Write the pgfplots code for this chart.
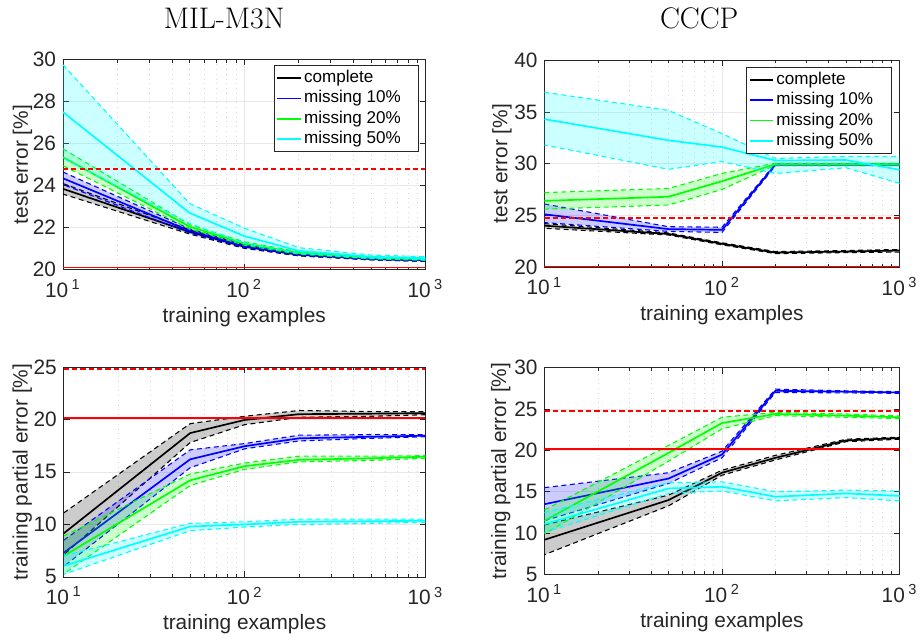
\documentclass[border=0pt]{standalone}
\usepackage{fontspec}
\usepackage{graphicx}
\usepackage{pgfplots}
\usepackage{pgfplotstable}
\pgfplotsset{compat=1.18}

\newfontfamily\arial{Liberation Sans}
\newcommand{\tickfont}{\arial\fontsize{10.5}{12}\selectfont}
\newcommand{\legfont}{\arial\fontsize{8.6}{10}\selectfont}
\newcommand{\titlefont}{\fontsize{15}{18}\selectfont}

\definecolor{axgray}{gray}{0.15}
\definecolor{mblue}{rgb}{0,0,1}
\definecolor{mgreen}{rgb}{0,1,0}
\definecolor{mcyan}{rgb}{0,1,1}

% each table: rows 0-5 = upper edge (b) and mean (m), x ascending;
% rows 6-11 = lower edge (b), x descending
% MIL-M3N, test error
\pgfplotstableread{
x b m
10 24.1 23.85
50 21.9 21.8
100 21.18 21.1
200 20.78 20.72
500 20.57 20.52
1000 20.5 20.45
1000 20.4 nan
500 20.47 nan
200 20.66 nan
100 21.02 nan
50 21.7 nan
10 23.6 nan
}\tAk
\pgfplotstableread{
x b m
10 24.65 24.35
50 21.95 21.85
100 21.2 21.12
200 20.8 20.73
500 20.57 20.52
1000 20.5 20.45
1000 20.4 nan
500 20.47 nan
200 20.67 nan
100 21.05 nan
50 21.75 nan
10 24.05 nan
}\tAb
\pgfplotstableread{
x b m
10 25.75 25.35
50 22.15 22.05
100 21.33 21.25
200 20.86 20.8
500 20.62 20.57
1000 20.55 20.5
1000 20.45 nan
500 20.52 nan
200 20.74 nan
100 21.17 nan
50 21.95 nan
10 24.95 nan
}\tAg
\pgfplotstableread{
x b m
10 29.75 27.5
50 23.15 22.7
100 21.98 21.6
200 21.05 20.9
500 20.7 20.62
1000 20.62 20.55
1000 20.48 nan
500 20.55 nan
200 20.78 nan
100 21.25 nan
50 22.2 nan
10 25.3 nan
}\tAc

% CCCP, test error
\pgfplotstableread{
x b m
10 24.2 24.0
50 23.3 23.2
100 22.35 22.25
200 21.5 21.4
500 21.6 21.5
1000 21.7 21.6
1000 21.45 nan
500 21.4 nan
200 21.3 nan
100 22.15 nan
50 23.1 nan
10 23.75 nan
}\tBk
\pgfplotstableread{
x b m
10 26.1 25.1
50 23.9 23.67
100 23.85 23.6
200 30.0 29.9
500 30.0 29.9
1000 30.0 29.9
1000 29.8 nan
500 29.8 nan
200 29.8 nan
100 23.35 nan
50 23.45 nan
10 24.3 nan
}\tBb
\pgfplotstableread{
x b m
10 27.2 26.4
50 27.6 26.8
100 29.05 28.3
200 30.05 29.95
500 30.05 29.95
1000 30.05 29.95
1000 29.85 nan
500 29.85 nan
200 29.85 nan
100 27.5 nan
50 26.0 nan
10 25.6 nan
}\tBg
\pgfplotstableread{
x b m
10 36.9 34.3
50 35.15 32.25
100 32.9 31.6
200 30.5 30.3
500 30.7 30.35
1000 30.7 29.4
1000 28.1 nan
500 29.6 nan
200 29.05 nan
100 30.2 nan
50 29.45 nan
10 31.8 nan
}\tBc

% MIL-M3N, training partial error
\pgfplotstableread{
x b m
10 11.1 9.15
50 19.6 18.7
100 20.3 19.95
200 20.85 20.5
500 20.75 20.55
1000 20.75 20.6
1000 20.45 nan
500 20.3 nan
200 20.2 nan
100 19.5 nan
50 17.8 nan
10 7.1 nan
}\tCk
\pgfplotstableread{
x b m
10 8.5 7.3
50 17.1 16.2
100 17.7 17.45
200 18.5 18.2
500 18.55 18.35
1000 18.55 18.45
1000 18.35 nan
500 18.2 nan
200 17.95 nan
100 17.2 nan
50 15.4 nan
10 6.0 nan
}\tCb
\pgfplotstableread{
x b m
10 8.9 7.0
50 14.8 14.2
100 15.85 15.55
200 16.5 16.15
500 16.5 16.3
1000 16.55 16.45
1000 16.3 nan
500 16.1 nan
200 15.95 nan
100 15.25 nan
50 13.7 nan
10 5.3 nan
}\tCg
\pgfplotstableread{
x b m
10 7.0 6.05
50 10.1 9.8
100 10.25 10.0
200 10.5 10.25
500 10.5 10.3
1000 10.5 10.35
1000 10.2 nan
500 10.1 nan
200 10.0 nan
100 9.75 nan
50 9.4 nan
10 5.25 nan
}\tCc

% CCCP, training partial error
\pgfplotstableread{
x b m
10 11.0 9.2
50 14.6 14.0
100 17.6 17.3
200 19.4 19.1
500 21.35 21.2
1000 21.6 21.5
1000 21.35 nan
500 21.05 nan
200 18.85 nan
100 17.0 nan
50 13.3 nan
10 7.4 nan
}\tDk
\pgfplotstableread{
x b m
10 15.5 13.5
50 17.3 16.6
100 19.9 19.5
200 27.4 27.2
500 27.2 27.1
1000 27.1 27.0
1000 26.9 nan
500 26.95 nan
200 27.0 nan
100 19.1 nan
50 16.0 nan
10 11.5 nan
}\tDb
\pgfplotstableread{
x b m
10 12.8 11.5
50 20.6 19.7
100 24.0 23.3
200 24.6 24.4
500 24.4 24.2
1000 24.15 24.0
1000 23.85 nan
500 24.0 nan
200 24.2 nan
100 22.6 nan
50 18.7 nan
10 9.9 nan
}\tDg
\pgfplotstableread{
x b m
10 12.5 11.1
50 16.1 15.4
100 16.2 15.6
200 15.0 14.4
500 15.2 14.8
1000 15.1 14.5
1000 13.9 nan
500 14.3 nan
200 13.9 nan
100 15.1 nan
50 14.8 nan
10 10.1 nan
}\tDc

% shared settings, set globally
\pgfplotsset{
  scale only axis,
  xtick={10,100,1000},
  xticklabels={10\,\textsuperscript{1},10\,\textsuperscript{2},10\,\textsuperscript{3}},
  xmajorgrids, xminorgrids, ymajorgrids,
  major grid style={solid, gray!18},
  minor grid style={dotted, gray!30},
  tick align=inside,
  major tick length=3pt, minor tick length=1.6pt,
  axis line style={axgray, line width=0.4pt},
  tick style={axgray, line width=0.4pt},
  xticklabel style={font=\tickfont, text=axgray, yshift=-1.5pt},
  yticklabel style={font=\tickfont, text=axgray},
  every axis label/.append style={font=\tickfont, text=axgray},
  xlabel style={at={(axis description cs:0.5,0)}, anchor=center, yshift=-24pt},
  legend cell align=left,
}

% band: fill, dashed upper and lower edges, solid mean
\newcommand{\band}[2]{%
  \addplot[fill=#2, fill opacity=0.2, draw=none, forget plot] table[x=x,y=b]{#1};
  \addplot[#2, line width=0.55pt, dash pattern=on 2.5pt off 1.8pt, forget plot, skip coords between index={6}{12}] table[x=x,y=b]{#1};
  \addplot[#2, line width=0.55pt, dash pattern=on 2.5pt off 1.8pt, forget plot, skip coords between index={0}{6}] table[x=x,y=b]{#1};
  \addplot[#2, line width=0.85pt, skip coords between index={6}{12}] table[x=x,y=m]{#1};
}

\begin{document}
\begin{tikzpicture}
\path (0,0) rectangle (462pt,320pt);

% top left: MIL-M3N test error
\begin{axis}[xmode=log, xmin=10, xmax=1000,
  at={(31.75pt,184pt)}, anchor=south west, width=182.75pt, height=106pt,
  ymin=20, ymax=30, ytick={20,22,...,30},
  /pgf/number format/assume math mode=true,
  xlabel={training examples},
  ylabel={test error [\%]},
  ylabel style={at={(axis description cs:-0.112,0.5)}, anchor=center},
  legend image code/.code={\draw[#1] (0pt,0pt) -- (12pt,0pt);},
  legend style={at={(axis description cs:1,1)}, anchor=north east, xshift=-3.15pt, yshift=-3pt,
    font=\legfont, draw=axgray, line width=0.4pt, fill=white, inner sep=1pt,
    nodes={inner sep=1.1pt, text height=6.3pt, text depth=1.8pt}}]
\band{\tAk}{black} \addlegendentry{complete}
\band{\tAb}{mblue} \addlegendentry{missing 10\%\hspace*{7pt}}
\band{\tAg}{mgreen} \addlegendentry{missing 20\%}
\band{\tAc}{mcyan} \addlegendentry{missing 50\%}
\addplot[red, line width=0.85pt, forget plot] coordinates {(10,20.1) (1000,20.1)};
\addplot[red, line width=0.85pt, dash pattern=on 2.6pt off 1.6pt, forget plot] coordinates {(10,24.78) (1000,24.78)};
\end{axis}

% top right: CCCP test error
\begin{axis}[xmode=log, xmin=10, xmax=1000,
  at={(274.5pt,185.35pt)}, anchor=south west, width=179pt, height=104.3pt,
  ymin=20, ymax=40, ytick={20,25,...,40},
  /pgf/number format/assume math mode=true,
  xlabel={training examples},
  ylabel={test error [\%]},
  ylabel style={at={(axis description cs:-0.12,0.5)}, anchor=center},
  legend image code/.code={\draw[#1] (0pt,0pt) -- (12pt,0pt);},
  legend style={at={(axis description cs:1,1)}, anchor=north east, xshift=-4pt, yshift=-3.5pt,
    font=\legfont, draw=axgray, line width=0.4pt, fill=white, inner sep=1pt,
    nodes={inner sep=1.1pt, text height=6.3pt, text depth=1.8pt}}]
\band{\tBk}{black} \addlegendentry{complete}
\band{\tBb}{mblue} \addlegendentry{missing 10\%\hspace*{7pt}}
\band{\tBg}{mgreen} \addlegendentry{missing 20\%}
\band{\tBc}{mcyan} \addlegendentry{missing 50\%}
\addplot[red, line width=0.85pt, forget plot] coordinates {(10,20.05) (1000,20.05)};
\addplot[red, line width=0.85pt, dash pattern=on 2.6pt off 1.6pt, forget plot] coordinates {(10,24.75) (1000,24.75)};
\end{axis}

% bottom left: MIL-M3N training partial error
\begin{axis}[xmode=log, xmin=10, xmax=1000,
  at={(32.15pt,29.15pt)}, anchor=south west, width=182.35pt, height=105.85pt,
  ymin=5, ymax=25, ytick={5,10,...,25},
  /pgf/number format/assume math mode=true,
  xlabel={training examples},
  ylabel={training partial error [\%]},
  ylabel style={at={(axis description cs:-0.1146,0.5)}, anchor=center}]
\band{\tCk}{black}
\band{\tCb}{mblue}
\band{\tCg}{mgreen}
\band{\tCc}{mcyan}
\addplot[red, line width=0.85pt] coordinates {(10,20.15) (1000,20.15)};
\addplot[red, line width=0.85pt, dash pattern=on 2.6pt off 1.6pt] coordinates {(10,24.8) (1000,24.8)};
\end{axis}

% bottom right: CCCP training partial error
\begin{axis}[xmode=log, xmin=10, xmax=1000,
  at={(274.5pt,30.35pt)}, anchor=south west, width=179pt, height=104.3pt,
  ymin=5, ymax=30, ytick={5,10,...,30},
  /pgf/number format/assume math mode=true,
  xlabel={training examples},
  ylabel={training partial error [\%]},
  ylabel style={at={(axis description cs:-0.123,0.5)}, anchor=center}]
\band{\tDk}{black}
\band{\tDb}{mblue}
\band{\tDg}{mgreen}
\band{\tDc}{mcyan}
\addplot[red, line width=0.85pt] coordinates {(10,20.15) (1000,20.15)};
\addplot[red, line width=0.85pt, dash pattern=on 2.6pt off 1.6pt] coordinates {(10,24.77) (1000,24.77)};
\end{axis}

\node[font=\titlefont, anchor=base] at (113pt,305.8pt) {MIL-M3N};
\node[font=\titlefont, anchor=base] at (352.5pt,305.8pt) {CCCP};
\end{tikzpicture}
\end{document}
